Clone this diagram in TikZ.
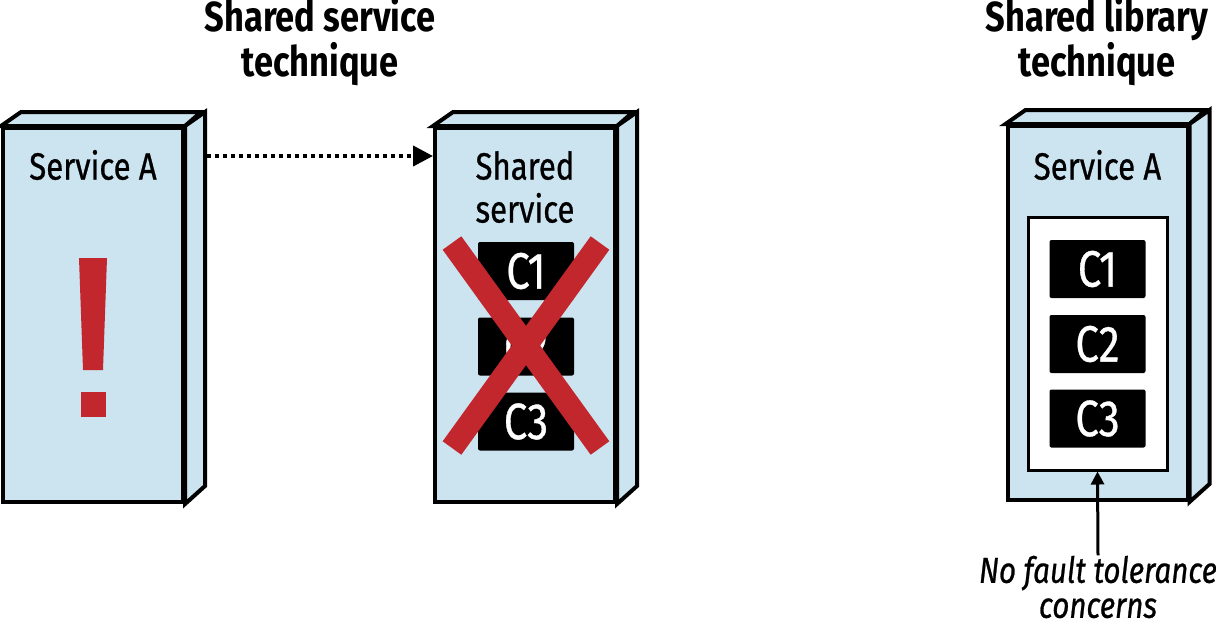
\documentclass[tikz,border=0pt]{standalone}
\usepackage{fontspec}
\setmainfont{Fira Sans}[FakeStretch=0.82]
\newfontfamily\medfont{Fira Sans}[FakeStretch=0.82,FakeBold=0.7]
\usepackage{tikz}
\usepackage{xcolor}
\usetikzlibrary{arrows.meta,positioning}
\definecolor{boxblue}{RGB}{204,227,240}
\definecolor{crossred}{RGB}{193,39,45}
\tikzset{%
  tipA/.tip={Triangle[length=10pt,width=10pt]},
  tipB/.tip={Triangle[length=6.5pt,width=6.5pt]},
  front/.style={draw=black, fill=boxblue, line width=2pt, minimum width=90pt, minimum height=187pt, inner sep=0pt},
  face/.style={draw=black, fill=boxblue, line width=2pt},
  comp/.style={fill=black, text=white, font=\medfont\fontsize{25.5}{26}\selectfont, minimum width=48pt, minimum height=29pt, inner sep=0pt, rounded corners=1pt},
  label/.style={font=\medfont\fontsize{19}{21.5}\selectfont, align=center, inner sep=0pt},
  title/.style={font=\fontsize{21}{22.5}\selectfont\bfseries, align=center, inner sep=0pt}
}

\begin{document}
\begin{tikzpicture}[x=0.5pt,y=-0.5pt]
\useasboundingbox (0,0) rectangle (1216,628);
% titles
\node[title] (titleSvc) at (320,42) {Shared service\\technique};
\node[title] (titleLib) at (1097,42) {Shared library\\technique};
% service A, left
\node[front] (svcA) at (93,315) {};
\filldraw[face] (svcA.north west) -- ++(20,-14) -- ++(180,0) -- (svcA.north east) -- cycle;
\filldraw[face] (svcA.north east) -- ++(20,-14) -- ++(0,374) -- (svcA.south east) -- cycle;
\node[label] (svcAName) at (93,165) {Service A};
\fill[crossred] (79,258) -- (107,258) -- (103,370) -- (83,370) -- cycle;
\fill[crossred] (81,392) rectangle (106,417);
% shared service
\node[front] (shared) at (525,315) {};
\filldraw[face] (shared.north west) -- ++(20,-14) -- ++(180,0) -- (shared.north east) -- cycle;
\filldraw[face] (shared.north east) -- ++(20,-14) -- ++(0,374) -- (shared.south east) -- cycle;
\node[label] (sharedName) at (525,187) {Shared\\service};
\node[comp] (sC1) at (526,271) {C1};
\node[comp] (sC2) at (526,346.5) {C2};
\node[comp] (sC3) at (526,421.5) {C3};
\draw[crossred, line width=11.5pt] (452,243) -- (600,448);
\draw[crossred, line width=11.5pt] (600,243) -- (452,448);
\draw[line width=2pt, dash pattern=on 2pt off 2pt, -tipA] ([shift={(22,30)}]svcA.north east) -- ([shift={(0,30)}]shared.north west);
% service A with library
\node[front] (libA) at (1097.5,313) {};
\filldraw[face] (libA.north west) -- ++(20,-14) -- ++(180,0) -- (libA.north east) -- cycle;
\filldraw[face] (libA.north east) -- ++(20,-14) -- ++(0,374) -- (libA.south east) -- cycle;
\node[label] (libAName) at (1097.5,165) {Service A};
\node[draw=black, fill=white, line width=1.5pt, minimum width=69.5pt, minimum height=126.5pt] (lib) at (1097.5,343.5) {};
\node[comp] (lC1) at (1097.5,269) {C1};
\node[comp] (lC2) at (1097.5,344) {C2};
\node[comp] (lC3) at (1097.5,418.5) {C3};
\node[label, font=\medfont\fontsize{18}{17.5}\selectfont\itshape] (note) at (1098,587) {No fault tolerance\\concerns};
\draw[line width=1.5pt, -tipB] (note.north) -- (lib.south);
\end{tikzpicture}
\end{document}
